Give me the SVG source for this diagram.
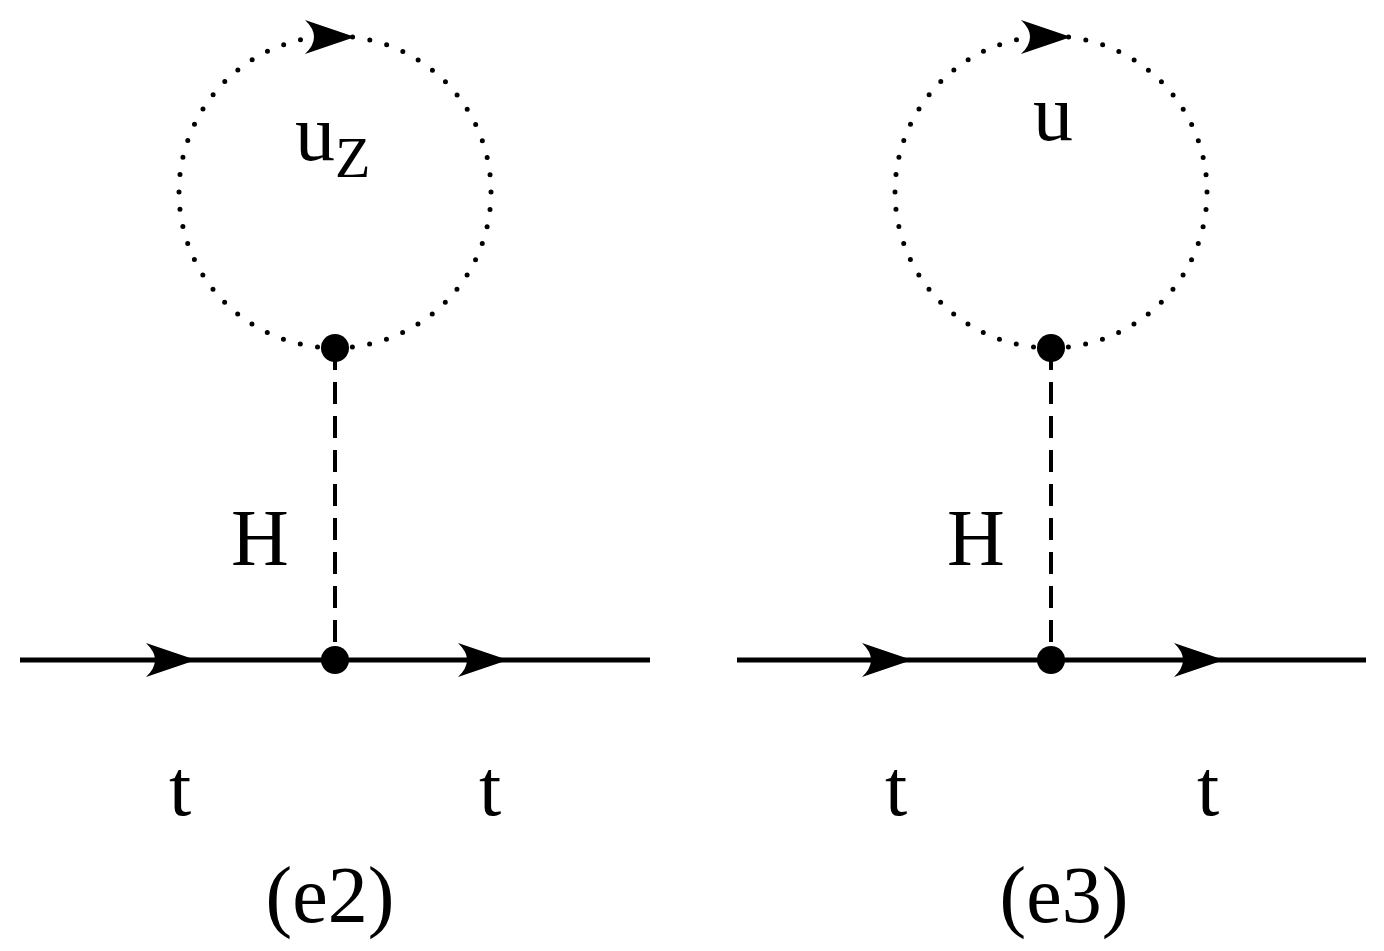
<svg xmlns="http://www.w3.org/2000/svg" width="1384" height="951" viewBox="0 0 1384 951">
<style>
.f{stroke:#000;stroke-width:5;fill:none}
.h{stroke:#000;stroke-width:4;fill:none;stroke-dasharray:22 12}
.d{stroke:#000;stroke-width:5;fill:none;stroke-linecap:round;stroke-dasharray:0 17.5}
.a{fill:#000}
text{font-family:"Liberation Serif",serif;fill:#000}
</style>
<defs><path id="ar" d="M0,0 L-50,-17 Q-32,0 -50,17 Z"/></defs>
<g id="connectors">
<circle class="d" cx="335" cy="192" r="156"/>
<line class="h" x1="335" y1="348" x2="335" y2="660"/>
<line class="f" x1="20" y1="660" x2="650" y2="660"/>
<use href="#ar" class="a" x="196" y="660"/>
<use href="#ar" class="a" x="508" y="660"/>
<use href="#ar" class="a" x="355" y="37"/>
<circle class="d" cx="1051" cy="192" r="156"/>
<line class="h" x1="1051" y1="348" x2="1051" y2="660"/>
<line class="f" x1="737" y1="660" x2="1366" y2="660"/>
<use href="#ar" class="a" x="912" y="660"/>
<use href="#ar" class="a" x="1224" y="660"/>
<use href="#ar" class="a" x="1071" y="37"/>
</g>
<g id="v1"><circle cx="335" cy="348" r="14"/><circle cx="335" cy="660" r="14"/></g>
<g id="v2"><circle cx="1051" cy="348" r="14"/><circle cx="1051" cy="660" r="14"/></g>
<g id="labels" font-size="80">
<text x="295" y="160" font-size="80">u<tspan font-size="58" dy="17">Z</tspan></text>
<text x="1053" y="140" text-anchor="middle">u</text>
<text x="260" y="565" text-anchor="middle">H</text>
<text x="976" y="565" text-anchor="middle">H</text>
<text x="180" y="815" text-anchor="middle">t</text>
<text x="490" y="815" text-anchor="middle">t</text>
<text x="896" y="815" text-anchor="middle">t</text>
<text x="1208" y="815" text-anchor="middle">t</text>
<text x="330" y="922" text-anchor="middle">(e2)</text>
<text x="1064" y="922" text-anchor="middle">(e3)</text>
</g>
</svg>
